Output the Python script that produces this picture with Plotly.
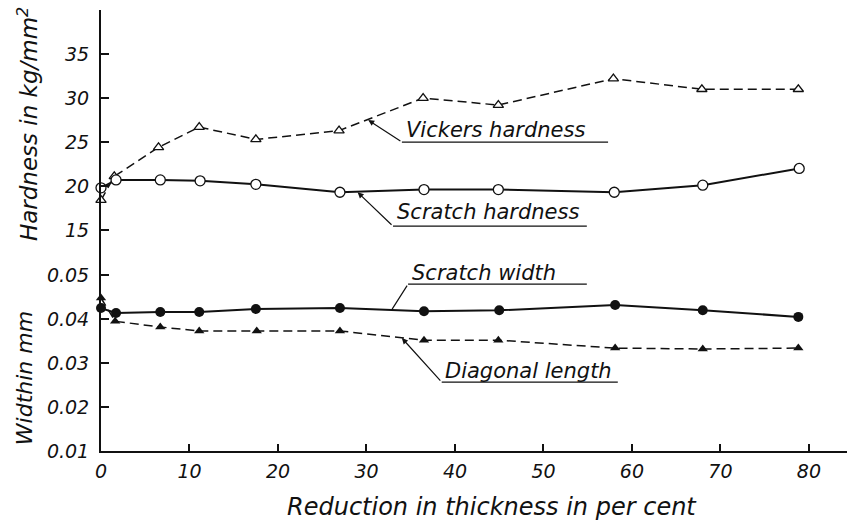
import plotly.graph_objects as go

# ---- data ----
reduction_sh = [0, 1.7, 6.7, 11.2, 17.5, 27.0, 36.5, 44.9, 58.0, 68.0, 78.9]
scratch_hardness = [19.8, 20.7, 20.7, 20.6, 20.2, 19.3, 19.6, 19.6, 19.3, 20.1, 22.0]

reduction_vh = [0, 1.5, 6.5, 11.1, 17.5, 26.9, 36.4, 44.9, 57.9, 67.9, 78.8]
vickers_hardness = [18.4, 21.1, 24.4, 26.7, 25.3, 26.3, 30.0, 29.2, 32.2, 31.0, 31.0]

reduction_sw = [0, 1.7, 6.7, 11.1, 17.5, 27.0, 36.5, 45.0, 58.1, 68.0, 78.8]
scratch_width = [0.0425, 0.0414, 0.0416, 0.0416, 0.0423, 0.0425, 0.0418, 0.0420, 0.0432, 0.0420, 0.0405]

reduction_dl = [0, 1.6, 6.7, 11.1, 17.6, 27.0, 36.5, 44.9, 58.1, 68.0, 78.8]
diagonal_length = [0.0448, 0.0395, 0.0382, 0.0373, 0.0373, 0.0373, 0.0352, 0.0352, 0.0334, 0.0332, 0.0334]

x_ticks = [0, 10, 20, 30, 40, 50, 60, 70, 80]
hard_ticks = [15, 20, 25, 30, 35]
width_ticks = [0.01, 0.02, 0.03, 0.04, 0.05]
width_tick_text = ["0.01", "0.02", "0.03", "0.04", "0.05"]

FONT = "DejaVu Sans"
BLACK = "#111111"

fig = go.Figure()

fig.add_trace(go.Scatter(
    x=reduction_vh, y=vickers_hardness, yaxis="y2", mode="lines+markers",
    line=dict(color=BLACK, width=1.5, dash="9px,5px"),
    marker=dict(symbol="triangle-up", size=9, color="white", line=dict(color=BLACK, width=1.3)),
    cliponaxis=False, name="Vickers hardness"))
fig.add_trace(go.Scatter(
    x=reduction_sh, y=scratch_hardness, yaxis="y2", mode="lines+markers",
    line=dict(color=BLACK, width=2),
    marker=dict(symbol="circle", size=10, color="white", line=dict(color=BLACK, width=1.3)),
    cliponaxis=False, name="Scratch hardness"))
fig.add_trace(go.Scatter(
    x=reduction_dl, y=diagonal_length, yaxis="y", mode="lines+markers",
    line=dict(color=BLACK, width=1.5, dash="9px,5px"),
    marker=dict(symbol="triangle-up", size=9, color=BLACK),
    cliponaxis=False, name="Diagonal length"))
fig.add_trace(go.Scatter(
    x=reduction_sw, y=scratch_width, yaxis="y", mode="lines+markers",
    line=dict(color=BLACK, width=2),
    marker=dict(symbol="circle", size=10, color=BLACK),
    cliponaxis=False, name="Scratch width"))

tickfont = dict(family=FONT, size=19, color=BLACK, style="italic")

fig.update_layout(
    width=847, height=520,
    margin=dict(l=101, r=0, t=10, b=69, autoexpand=False),
    paper_bgcolor="white", plot_bgcolor="white",
    showlegend=False,
    font=dict(family=FONT, color=BLACK, style="italic"),
    xaxis=dict(range=[0, 84.3], tickvals=x_ticks, ticks="inside", ticklen=7,
               tickcolor=BLACK, tickwidth=1.5, showline=True, linecolor=BLACK, linewidth=2,
               showgrid=False, zeroline=False, tickfont=tickfont, anchor="y",
               automargin=False, ticklabelstandoff=2),
    yaxis=dict(domain=[0, 0.451], range=[0.01, 0.05523], tickvals=width_ticks,
               ticktext=width_tick_text, ticks="inside", ticklen=8, tickcolor=BLACK,
               tickwidth=1.5, showline=True, linecolor=BLACK, linewidth=2, showgrid=False,
               zeroline=False, tickfont=tickfont, ticklabelstandoff=6, automargin=False),
    yaxis2=dict(domain=[0.451, 1], range=[12.5, 40], tickvals=hard_ticks, ticks="inside",
                ticklen=8, tickcolor=BLACK, tickwidth=1.5, showline=True, linecolor=BLACK,
                linewidth=2, showgrid=False, zeroline=False, tickfont=tickfont,
                anchor="x", ticklabelstandoff=6, automargin=False),
)

labfont = dict(family=FONT, size=21, color=BLACK, style="italic")

# axis titles
fig.add_annotation(text="Hardness in kg/mm<sup>2</sup>", xref="paper", yref="paper",
                   x=-0.098, y=0.741, textangle=-90, showarrow=False,
                   font=dict(family=FONT, size=23, color=BLACK, style="italic"),
                   xanchor="center", yanchor="middle")
fig.add_annotation(text="Widthin mm", xref="paper", yref="paper",
                   x=-0.103, y=0.1655, textangle=-90, showarrow=False,
                   font=dict(family=FONT, size=22, color=BLACK, style="italic"),
                   xanchor="center", yanchor="middle")
fig.add_annotation(text="Reduction in thickness in per cent", xref="paper", yref="paper",
                   x=0.524, y=-0.127, showarrow=False,
                   font=dict(family=FONT, size=24, color=BLACK, style="italic"),
                   xanchor="center", yanchor="middle")

# callout labels: (text, yref, tip x, tip y, start x, start y, end x, text y, arrow)
callouts = [
    ("Vickers hardness", "y2", 30.2, 27.5, 34.0, 25.0, 57.3, 26.4, True),
    ("Scratch hardness", "y2", 29.0, 19.3, 33.0, 15.45, 54.9, 17.05, True),
    ("Scratch width", "y", 32.9, 0.04227, 34.7, 0.04795, 54.9, 0.05045, False),
    ("Diagonal length", "y", 34.0, 0.03568, 38.5, 0.02568, 58.4, 0.02818, True),
]
for text, yr, tx, ty, sx, sy, ex, lty, arrow in callouts:
    fig.add_shape(type="line", xref="x", yref=yr, x0=sx, y0=sy, x1=ex, y1=sy,
                  line=dict(color=BLACK, width=1.2))
    fig.add_annotation(x=tx, y=ty, ax=sx, ay=sy, xref="x", yref=yr, axref="x", ayref=yr,
                       text="", showarrow=True, arrowhead=2 if arrow else 0,
                       arrowsize=1, arrowwidth=1.2, arrowcolor=BLACK, standoff=0)
    fig.add_annotation(x=sx + 0.2, y=lty, xref="x", yref=yr, text=text, showarrow=False,
                       font=labfont, xanchor="left", yanchor="middle")

fig.write_html("out.html", config={"displayModeBar": False},
               post_script="document.body.style.margin='0';")
